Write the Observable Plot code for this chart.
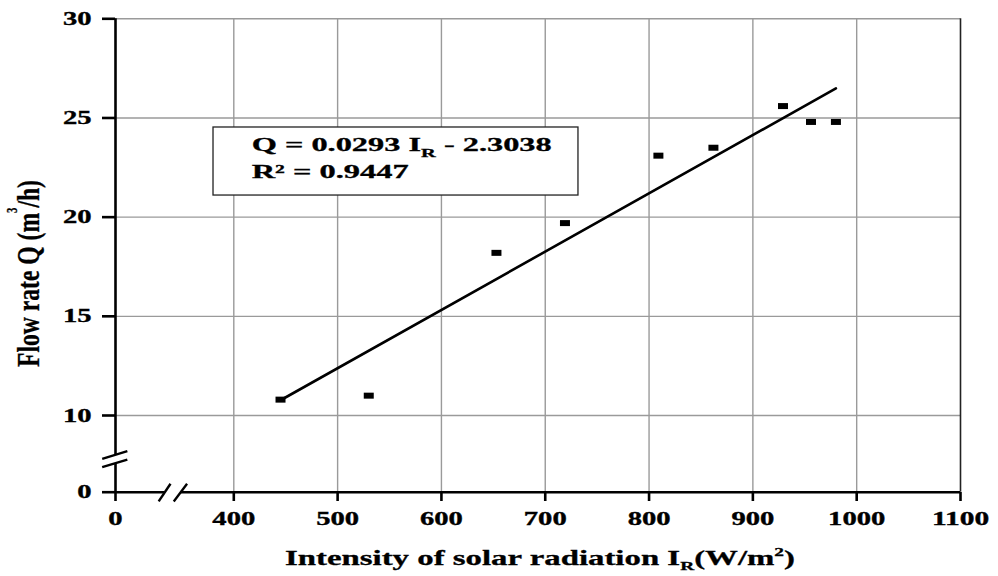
<!DOCTYPE html>
<html>
<head>
<meta charset="utf-8">
<script src="https://cdn.jsdelivr.net/npm/d3@7"></script>
<script src="https://cdn.jsdelivr.net/npm/@observablehq/plot@0.6"></script>
<style>
  body { margin: 0; background: #fff; }
  #chart svg { display: block; }
</style>
</head>
<body>
<div id="chart"></div>
<script>
// ---- data ----
const irradiance = [445, 530, 653, 719, 809, 862, 929, 956, 980];      // I_R (W/m²)
const flowRate   = [10.8, 11.0, 18.2, 19.7, 23.1, 23.5, 25.6, 24.8, 24.8]; // Q (m³/h)

const xTicks = [0, 400, 500, 600, 700, 800, 900, 1000, 1100];
const yTicks = [0, 10, 15, 20, 25, 30];
const xGrid = [400, 500, 600, 700, 800, 900, 1000];
const yGrid = [10, 15, 20, 25, 30];

const equationText = ["Q = 0.0293 I", "R", " - 2.3038"];
const r2Text = "R² = 0.9447";
const xTitle = ["Intensity of solar radiation I", "R", "(W/m", "2", ")"];
const yTitle = ["Flow rate Q (m", "3", "/h)"];

// broken-axis pieces (data units)
const xAxisSegments = [{x1: 0, x2: 166, y: 0}, {x1: 220, x2: 1100, y: 0}];
const yAxisSegments = [{y1: 0, y2: 3.7, x: 0}, {y1: 4.78, y2: 30, x: 0}];
const breakMarks = [
  {x1: 146, y1: -1.2, x2: 186, y2: 1.1},
  {x1: 197, y1: -1.2, x2: 242, y2: 1.1},
  {x1: -45, y1: 3.26, x2: 40, y2: 4.26},
  {x1: -45, y1: 4.35, x2: 40, y2: 5.35}
];
const legendBox = [{x1: 331.4, x2: 732, y1: 21.09, y2: 24.52}];
const legendLines = [{x: 417.7, y: 23.33}, {x: 417.7, y: 21.93}];

const points = irradiance.map((x, i) => ({x, y: flowRate[i]}));

const barSymbol = {draw(context) { context.rect(-5, -3, 10, 6); }};

const plot = Plot.plot({
  width: 998,
  height: 576,
  marginLeft: 115,
  marginRight: 38,
  marginTop: 18,
  marginBottom: 84,
  style: {
    fontFamily: "'Liberation Serif', 'Times New Roman', serif",
    fontSize: "19px",
    fontWeight: "bold",
    background: "white",
    color: "black"
  },
  x: {type: "linear", domain: [0, 400, 1100], range: [115, 233.3, 960]},
  y: {type: "linear", domain: [0, 10, 30], range: [491.7, 415, 18.3]},
  marks: [
    Plot.ruleX(xGrid, {x: d => d, y1: 0, y2: 30, stroke: "#9a9a9a", strokeWidth: 1.4}),
    Plot.ruleY(yGrid, {y: d => d, x1: 0, x2: 1100, stroke: "#9a9a9a", strokeWidth: 1.4}),
    Plot.ruleX([1100], {x: d => d, y1: 0, y2: 30, stroke: "#222", strokeWidth: 1.6}),
    Plot.ruleY(xAxisSegments, {x1: "x1", x2: "x2", y: "y", stroke: "black", strokeWidth: 2.6}),
    Plot.ruleX(yAxisSegments, {y1: "y1", y2: "y2", x: "x", stroke: "black", strokeWidth: 2.6}),
    Plot.link(breakMarks, {x1: "x1", y1: "y1", x2: "x2", y2: "y2", stroke: "black", strokeWidth: 2.4}),
    Plot.linearRegressionY(points, {x: "x", y: "y", ci: 0, stroke: "black", strokeWidth: 2.6}),
    Plot.dot(points, {x: "x", y: "y", symbol: barSymbol, fill: "black", stroke: "none"}),
    Plot.rect(legendBox, {x1: "x1", x2: "x2", y1: "y1", y2: "y2", fill: "white", stroke: "#222", strokeWidth: 1.3}),
    Plot.axisX({ticks: xTicks, tickSize: 9, tickPadding: 10, stroke: "black", strokeWidth: 2.6, tickFormat: d => String(d), label: null}),
    Plot.axisY({ticks: yTicks, tickSize: 13, tickPadding: 11, stroke: "black", strokeWidth: 2.6, tickFormat: d => String(d), label: null})
  ]
});

document.getElementById("chart").appendChild(plot);

const svg = d3.select(plot);
// stretch tick labels horizontally like the reference
svg.selectAll('g[aria-label="x-axis tick label"] text, g[aria-label="y-axis tick label"] text')
  .each(function() {
    const t = this.textContent;
    this.setAttribute("textLength", (t.length * 14.3).toFixed(1));
    this.setAttribute("lengthAdjust", "spacingAndGlyphs");
    this.setAttribute("stroke", "black");
    this.setAttribute("stroke-width", "0.35");
  });

const sx = plot.scale("x"), sy = plot.scale("y");
const font = "'Liberation Serif', 'Times New Roman', serif";

// regression legend text
const eq = svg.append("text")
  .attr("x", sx.apply(legendLines[0].x)).attr("y", sy.apply(legendLines[0].y))
  .attr("text-anchor", "start")
  .attr("font-family", font).attr("font-weight", "bold").attr("font-size", 19)
  .attr("stroke", "black").attr("stroke-width", 0.3)
  .attr("textLength", 300).attr("lengthAdjust", "spacingAndGlyphs");
eq.append("tspan").text(equationText[0]);
eq.append("tspan").attr("font-size", 12).attr("dy", 6).text(equationText[1]);
eq.append("tspan").attr("font-size", 19).attr("dy", -6).text(equationText[2]);

svg.append("text")
  .attr("x", sx.apply(legendLines[1].x)).attr("y", sy.apply(legendLines[1].y))
  .attr("text-anchor", "start")
  .attr("font-family", font).attr("font-weight", "bold").attr("font-size", 19)
  .attr("stroke", "black").attr("stroke-width", 0.3)
  .attr("textLength", 157).attr("lengthAdjust", "spacingAndGlyphs")
  .text(r2Text);

// x axis title
const xt = svg.append("text")
  .attr("x", 285).attr("y", 565)
  .attr("text-anchor", "start")
  .attr("font-family", font).attr("font-weight", "bold").attr("font-size", 22)
  .attr("stroke", "black").attr("stroke-width", 0.3)
  .attr("textLength", 510).attr("lengthAdjust", "spacingAndGlyphs");
xt.append("tspan").text(xTitle[0]);
xt.append("tspan").attr("font-size", 13).attr("dy", 5).text(xTitle[1]);
xt.append("tspan").attr("font-size", 22).attr("dy", -5).text(xTitle[2]);
xt.append("tspan").attr("font-size", 13).attr("dy", -9).text(xTitle[3]);
xt.append("tspan").attr("font-size", 22).attr("dy", 9).text(xTitle[4]);

// y axis title (rotated)
const yt = svg.append("text")
  .attr("transform", "translate(38.5,273.5) rotate(-90)")
  .attr("text-anchor", "middle")
  .attr("font-family", font).attr("font-weight", "bold").attr("font-size", 31)
  .attr("stroke", "black").attr("stroke-width", 0.3)
  .attr("textLength", 187).attr("lengthAdjust", "spacingAndGlyphs");
yt.append("tspan").text(yTitle[0]);
yt.append("tspan").attr("font-size", 14).attr("dy", -22).text(yTitle[1]);
yt.append("tspan").attr("font-size", 31).attr("dy", 22).text(yTitle[2]);
</script>
</body>
</html>
